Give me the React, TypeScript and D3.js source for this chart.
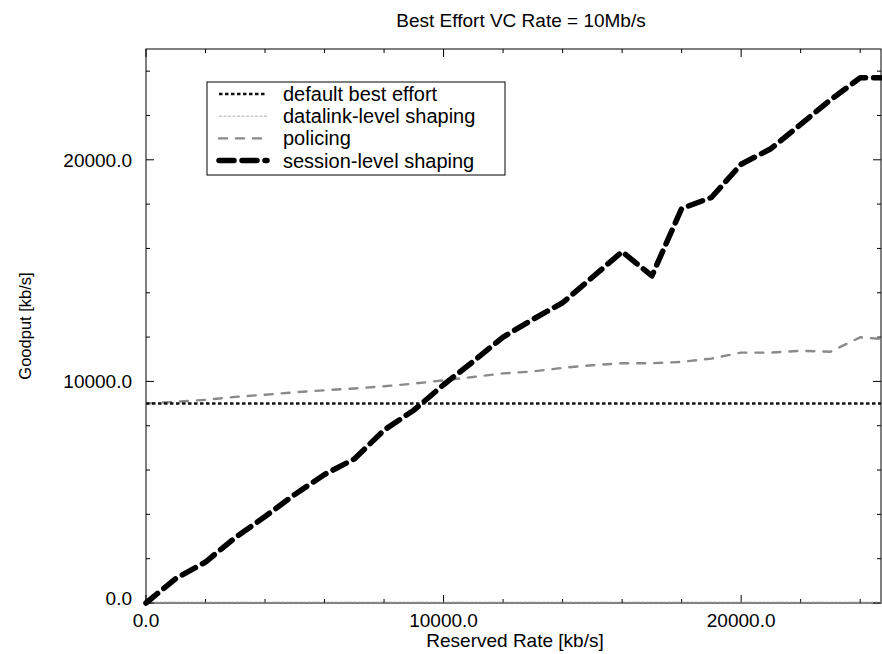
import { useEffect, useRef } from "react";
import * as d3 from "d3";

const W = 882;
const H = 654;

// series (reserved rate [kb/s] -> goodput [kb/s])
const defaultX = [0, 24700];
const defaultY = [9000, 9000];

const datalinkX = [0, 24700];
const datalinkY = [40, 40];

const policingX = [0, 1000, 2000, 3000, 4000, 5000, 6000, 7000, 8000, 9000, 10000, 11000, 12000, 13000, 14000, 15000, 16000, 17000, 18000, 19000, 20000, 21000, 22000, 23000, 24000, 24700];
const policingY = [9000, 9080, 9170, 9300, 9400, 9510, 9600, 9680, 9780, 9900, 10050, 10200, 10360, 10450, 10610, 10730, 10820, 10820, 10880, 11030, 11300, 11300, 11380, 11340, 11990, 11920];

const sessionX = [0, 1000, 2000, 3000, 4000, 5000, 6000, 7000, 8000, 9000, 10000, 11000, 12000, 13000, 14000, 15000, 16000, 17000, 18000, 19000, 20000, 21000, 22000, 23000, 24000, 24700];
const sessionY = [0, 1100, 1850, 2950, 3900, 4900, 5800, 6500, 7800, 8700, 9850, 10900, 12000, 12800, 13550, 14700, 15850, 14760, 17800, 18300, 19800, 20500, 21600, 22700, 23700, 23700];

const xMajorTicks = [0, 10000, 20000];
const yMajorTicks = [0, 10000, 20000];
const xMinorTicks = [2000, 4000, 6000, 8000, 12000, 14000, 16000, 18000, 22000, 24000];
const yMinorTicks = [2000, 4000, 6000, 8000, 12000, 14000, 16000, 18000, 22000, 24000];

const legendItems = [
  { label: "default best effort", color: "#111", width: 2.6, dash: "3.5,2.5", cap: "butt" },
  { label: "datalink-level shaping", color: "#999", width: 0.8, dash: "3,1.5", cap: "butt" },
  { label: "policing", color: "#8a8a8a", width: 2.4, dash: "8,9", cap: "round" },
  { label: "session-level shaping", color: "#000", width: 5.5, dash: "15,8", cap: "round" },
];

const FONT = "'Liberation Sans', Arial, Helvetica, sans-serif";

export default function App() {
  const svgRef = useRef<SVGSVGElement | null>(null);

  useEffect(() => {
    const left = 146, right = 881, top = 49, bottom = 603;
    const x = d3.scaleLinear().domain([0, 24700]).range([left, right]);
    const y = d3.scaleLinear().domain([0, 25000]).range([bottom, top]);

    const svg = d3.select(svgRef.current);
    svg.selectAll("*").remove();

    svg.append("rect").attr("width", W).attr("height", H).attr("fill", "#fff");

    // frame
    svg.append("rect")
      .attr("x", left).attr("y", top)
      .attr("width", right - left).attr("height", bottom - top)
      .attr("fill", "none").attr("stroke", "#000").attr("stroke-width", 1);

    const tickG = svg.append("g").attr("stroke", "#000").attr("stroke-width", 1);
    const drawXTick = (v: number, len: number) => {
      tickG.append("line").attr("x1", x(v)).attr("x2", x(v)).attr("y1", bottom).attr("y2", bottom - len);
      tickG.append("line").attr("x1", x(v)).attr("x2", x(v)).attr("y1", top).attr("y2", top + len);
    };
    const drawYTick = (v: number, len: number) => {
      tickG.append("line").attr("x1", left).attr("x2", left + len).attr("y1", y(v)).attr("y2", y(v));
      tickG.append("line").attr("x1", right).attr("x2", right - len).attr("y1", y(v)).attr("y2", y(v));
    };
    xMinorTicks.forEach(v => drawXTick(v, 4));
    xMajorTicks.forEach(v => drawXTick(v, 8));
    yMinorTicks.forEach(v => drawYTick(v, 4));
    yMajorTicks.forEach(v => drawYTick(v, 8));

    // tick labels
    svg.append("g").selectAll("text").data(xMajorTicks).enter().append("text")
      .attr("x", d => x(d)).attr("y", bottom + 24)
      .attr("text-anchor", "middle").attr("font-family", FONT).attr("font-size", 19)
      .text(d => d.toFixed(1));
    svg.append("g").selectAll("text").data(yMajorTicks).enter().append("text")
      .attr("x", left - 14).attr("y", d => y(d) + (d === 0 ? 2 : 7))
      .attr("text-anchor", "end").attr("font-family", FONT).attr("font-size", 19)
      .text(d => d.toFixed(1));

    // axis titles
    svg.append("text")
      .attr("x", 515).attr("y", 647).attr("text-anchor", "middle")
      .attr("font-family", FONT).attr("font-size", 19)
      .text("Reserved Rate [kb/s]");
    svg.append("text")
      .attr("transform", `translate(31,${(top + bottom) / 2}) rotate(-90)`)
      .attr("text-anchor", "middle")
      .attr("font-family", FONT).attr("font-size", 16.5)
      .text("Goodput [kb/s]");
    svg.append("text")
      .attr("x", 521).attr("y", 27).attr("text-anchor", "middle")
      .attr("font-family", FONT).attr("font-size", 19)
      .text("Best Effort VC Rate = 10Mb/s");

    const line = d3.line<[number, number]>().x(d => x(d[0])).y(d => y(d[1]));
    const series: [number[], number[], number][] = [
      [datalinkX, datalinkY, 1],
      [policingX, policingY, 2],
      [defaultX, defaultY, 0],
      [sessionX, sessionY, 3],
    ];
    series.forEach(([xs, ys, k]) => {
      const st = legendItems[k];
      svg.append("path")
        .attr("d", line(xs.map((v, i) => [v, ys[i]] as [number, number])))
        .attr("fill", "none")
        .attr("stroke", st.color)
        .attr("stroke-width", st.width)
        .attr("stroke-dasharray", st.dash)
        .attr("stroke-linecap", st.cap)
        .attr("stroke-linejoin", "round");
    });

    // legend
    const lg = svg.append("g");
    lg.append("rect")
      .attr("x", 207).attr("y", 82).attr("width", 298).attr("height", 93)
      .attr("fill", "#fff").attr("stroke", "#000").attr("stroke-width", 1);
    legendItems.forEach((it, i) => {
      const cy = 94 + i * 22.2;
      lg.append("line")
        .attr("x1", 219).attr("x2", 267).attr("y1", cy).attr("y2", cy)
        .attr("stroke", it.color).attr("stroke-width", it.width)
        .attr("stroke-dasharray", it.dash).attr("stroke-linecap", it.cap);
      lg.append("text")
        .attr("x", 283).attr("y", cy + 7)
        .attr("font-family", FONT).attr("font-size", 20)
        .text(it.label);
    });
  }, []);

  return (
    <svg
      ref={svgRef}
      width={W}
      height={H}
      style={{ position: "absolute", left: 0, top: 0 }}
    />
  );
}
